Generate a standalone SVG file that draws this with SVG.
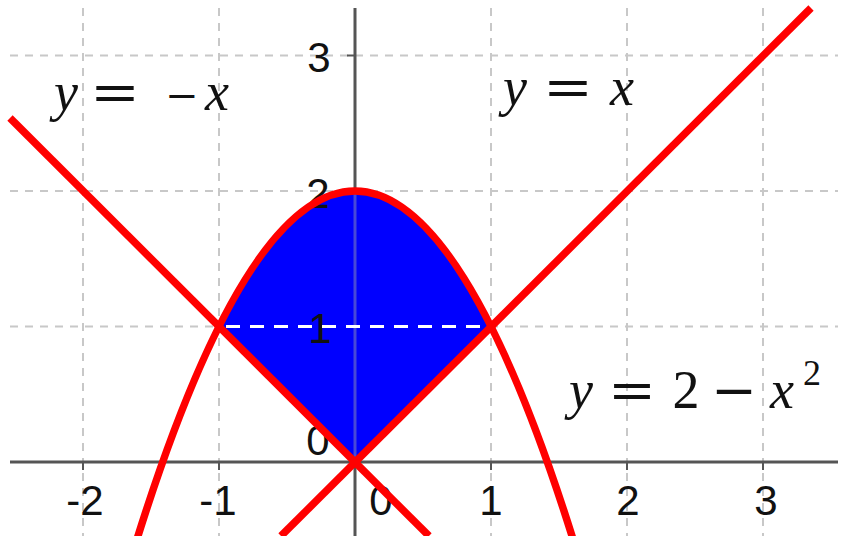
<svg xmlns="http://www.w3.org/2000/svg" width="841" height="536" viewBox="0 0 841 536">
  <style>
    .grid { stroke: #c8c8c8; stroke-width: 2; stroke-dasharray: 8 7; fill: none; }
    .axis { stroke: #555555; stroke-width: 3; fill: none; }
    .tick { stroke: #555555; stroke-width: 2; }
    .num { font-family: "Liberation Sans", Arial, sans-serif; font-size: 42px; fill: #111111; text-anchor: middle; }
    .curve { stroke: #ff0000; stroke-width: 7.5; fill: none; stroke-linecap: butt; }
    .mi { font-family: "Liberation Serif", "Times New Roman", serif; font-style: italic; font-size: 54px; fill: #111111; text-anchor: middle; }
    .mo { font-family: "DejaVu Serif", serif; font-size: 52px; fill: #111111; text-anchor: middle; }
    .mn { font-family: "Liberation Serif", "Times New Roman", serif; font-size: 54px; fill: #111111; text-anchor: middle; }
  </style>
  <rect x="0" y="0" width="841" height="536" fill="#ffffff"/>

  <g id="grid">
    <line class="grid" x1="10" y1="55.5" x2="838" y2="55.5"/>
    <line class="grid" x1="10" y1="191" x2="838" y2="191"/>
    <line class="grid" x1="10" y1="326.5" x2="838" y2="326.5"/>
    <line class="grid" x1="83" y1="8" x2="83" y2="536"/>
    <line class="grid" x1="219" y1="8" x2="219" y2="536"/>
    <line class="grid" x1="491" y1="8" x2="491" y2="536"/>
    <line class="grid" x1="627" y1="8" x2="627" y2="536"/>
    <line class="grid" x1="763" y1="8" x2="763" y2="536"/>
  </g>

  <g id="axes">
    <line class="axis" x1="10" y1="462" x2="838" y2="462"/>
    <line class="axis" x1="355" y1="8" x2="355" y2="536"/>
    <line class="tick" x1="83" y1="462" x2="83" y2="470"/>
    <line class="tick" x1="219" y1="462" x2="219" y2="470"/>
    <line class="tick" x1="491" y1="462" x2="491" y2="470"/>
    <line class="tick" x1="627" y1="462" x2="627" y2="470"/>
    <line class="tick" x1="763" y1="462" x2="763" y2="470"/>
    <line class="tick" x1="347" y1="55.5" x2="355" y2="55.5"/>
    <line class="tick" x1="347" y1="191" x2="355" y2="191"/>
    <line class="tick" x1="347" y1="326.5" x2="355" y2="326.5"/>
  </g>

  <g id="region">
    <path d="M219,326.5 Q355,55.5 491,326.5 L355,462 Z" fill="#0000ff"/>
    <line x1="355" y1="194" x2="355" y2="458" stroke="#4848d8" stroke-width="3"/>
  </g>

  <g id="tick-labels">
    <text class="num" x="319" y="72">3</text>
    <text class="num" x="318" y="208">2</text>
    <text class="num" x="320" y="343">1</text>
    <text class="num" x="318" y="455">0</text>
    <text class="num" x="85" y="515">-2</text>
    <text class="num" x="218" y="515">-1</text>
    <text class="num" x="381" y="515">0</text>
    <text class="num" x="491" y="515">1</text>
    <text class="num" x="628" y="515">2</text>
    <text class="num" x="766" y="515">3</text>
  </g>

  <line id="chord" x1="226" y1="326.5" x2="485" y2="326.5" stroke="#ffffff" stroke-width="3" stroke-dasharray="14 10"/>

  <g id="curves">
    <path class="curve" d="M123.8,582.6 Q355,-200.6 586.2,582.6"/>
    <line class="curve" x1="281" y1="536" x2="811" y2="8"/>
    <line class="curve" x1="10" y1="118" x2="429" y2="536"/>
  </g>

  <g id="label-neg-x">
    <text class="mi" x="66" y="110">y</text>
    <text class="mo" x="115" y="110" textLength="50" lengthAdjust="spacingAndGlyphs">=</text>
    <text class="mo" x="182" y="109" style="font-size:40px">−</text>
    <text class="mi" x="217" y="110">x</text>
  </g>
  <g id="label-x">
    <text class="mi" x="515" y="105">y</text>
    <text class="mo" x="568" y="105" textLength="50" lengthAdjust="spacingAndGlyphs">=</text>
    <text class="mi" x="622" y="105">x</text>
  </g>
  <g id="label-parabola">
    <text class="mi" x="581" y="408">y</text>
    <text class="mo" x="632" y="408" textLength="48" lengthAdjust="spacingAndGlyphs">=</text>
    <text class="mn" x="686" y="408">2</text>
    <text class="mo" x="734" y="408" textLength="46" lengthAdjust="spacingAndGlyphs">−</text>
    <text class="mi" x="782" y="408">x</text>
    <text class="mn" x="812" y="385" style="font-size:36px">2</text>
  </g>
</svg>
